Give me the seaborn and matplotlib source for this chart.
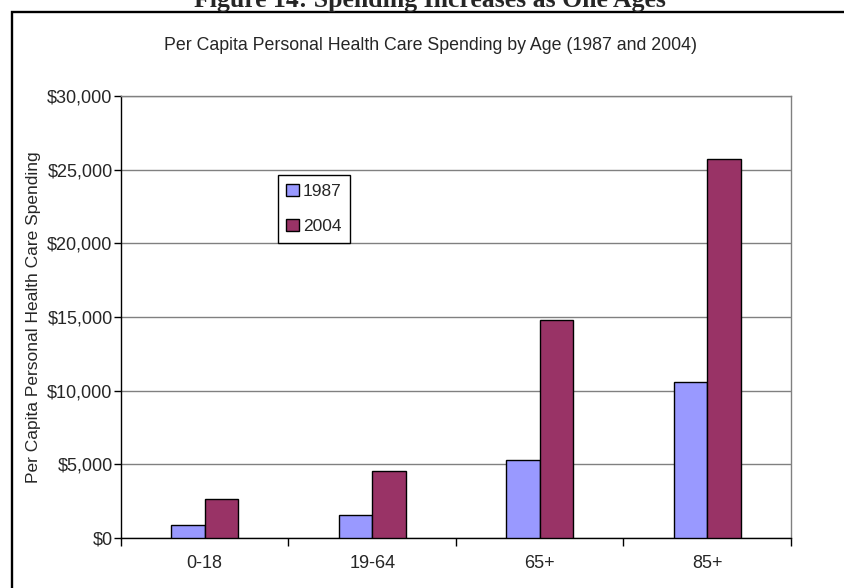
import seaborn as sns
import pandas as pd
import numpy as np
import matplotlib.pyplot as plt
from matplotlib.patches import Rectangle
from matplotlib.ticker import FuncFormatter, FixedLocator

# Data
age_groups = ["0-18", "19-64", "65+", "85+"]
years = ["1987", "2004"]
spend_1987 = [880, 1550, 5300, 10600]
spend_2004 = [2650, 4520, 14800, 25700]

df = pd.DataFrame({
    "Age": age_groups * 2,
    "Year": [years[0]] * 4 + [years[1]] * 4,
    "Spending": spend_1987 + spend_2004,
})

sns.set_style("white")
plt.rcParams['font.family'] = ['Liberation Sans', 'DejaVu Sans']

fig = plt.figure(figsize=(8.45, 5.88), dpi=100)
ax = fig.add_axes([0.1432, 0.085, 0.936 - 0.1432, 0.8367 - 0.085])

sns.barplot(data=df, x="Age", y="Spending", hue="Year",
            palette={"1987": "#9999FF", "2004": "#993366"}, saturation=1,
            width=0.4, edgecolor="black", linewidth=1, ax=ax, zorder=3)

ax.set_ylim(0, 30000)
ax.set_xlim(-0.5, 3.5)
ax.set_yticks(np.arange(0, 30001, 5000))
ax.yaxis.set_major_formatter(FuncFormatter(lambda v, p: f"${int(v):,}"))
ax.grid(axis="y", color="#808080", linewidth=1, zorder=0)
ax.set_axisbelow(True)

# x ticks: labels at centers, tick marks at category boundaries
ax.tick_params(axis="x", which="major", length=0, labelsize=13, pad=12)
ax.xaxis.set_minor_locator(FixedLocator([-0.5, 0.5, 1.5, 2.5, 3.5]))
ax.tick_params(axis="x", which="minor", length=6, width=1, color="black", direction="out", bottom=True)
ax.tick_params(axis="y", length=5, width=1, color="black", direction="out", left=True, labelsize=13, pad=1)

for side in ["left", "bottom"]:
    ax.spines[side].set_color("black")
    ax.spines[side].set_linewidth(1)
for side in ["right", "top"]:
    ax.spines[side].set_color("#808080")
    ax.spines[side].set_linewidth(1)

ax.set_xlabel("")
ax.set_ylabel("Per Capita Personal Health Care Spending", fontsize=12.5, labelpad=4.5)

leg = ax.legend(loc="upper left", bbox_to_anchor=(0.234, 0.821), frameon=True,
                fancybox=False, edgecolor="black", fontsize=12.5,
                handlelength=0.7, handleheight=0.7, handletextpad=0.25,
                labelspacing=1.15, borderpad=0.5, borderaxespad=0, framealpha=1)
leg.get_frame().set_linewidth(1)

fig.text(430 / 845, 1 - 45 / 588,
         "Per Capita Personal Health Care Spending by Age (1987 and 2004)",
         ha="center", va="center", fontsize=12.8)

# outer chart box and clipped figure heading
fig.patches.append(Rectangle((12 / 845, -0.1), 1.2, 1 - 12 / 588 + 0.1,
                             transform=fig.transFigure, fill=False,
                             edgecolor="black", linewidth=1.7))
fig.text(430 / 845, 1 - 7 / 588, "Figure 14: Spending Increases as One Ages",
         ha="center", va="baseline", fontsize=18.5, fontweight="bold",
         family=["Liberation Serif", "DejaVu Serif"])

fig.savefig("out.png", dpi=100)
